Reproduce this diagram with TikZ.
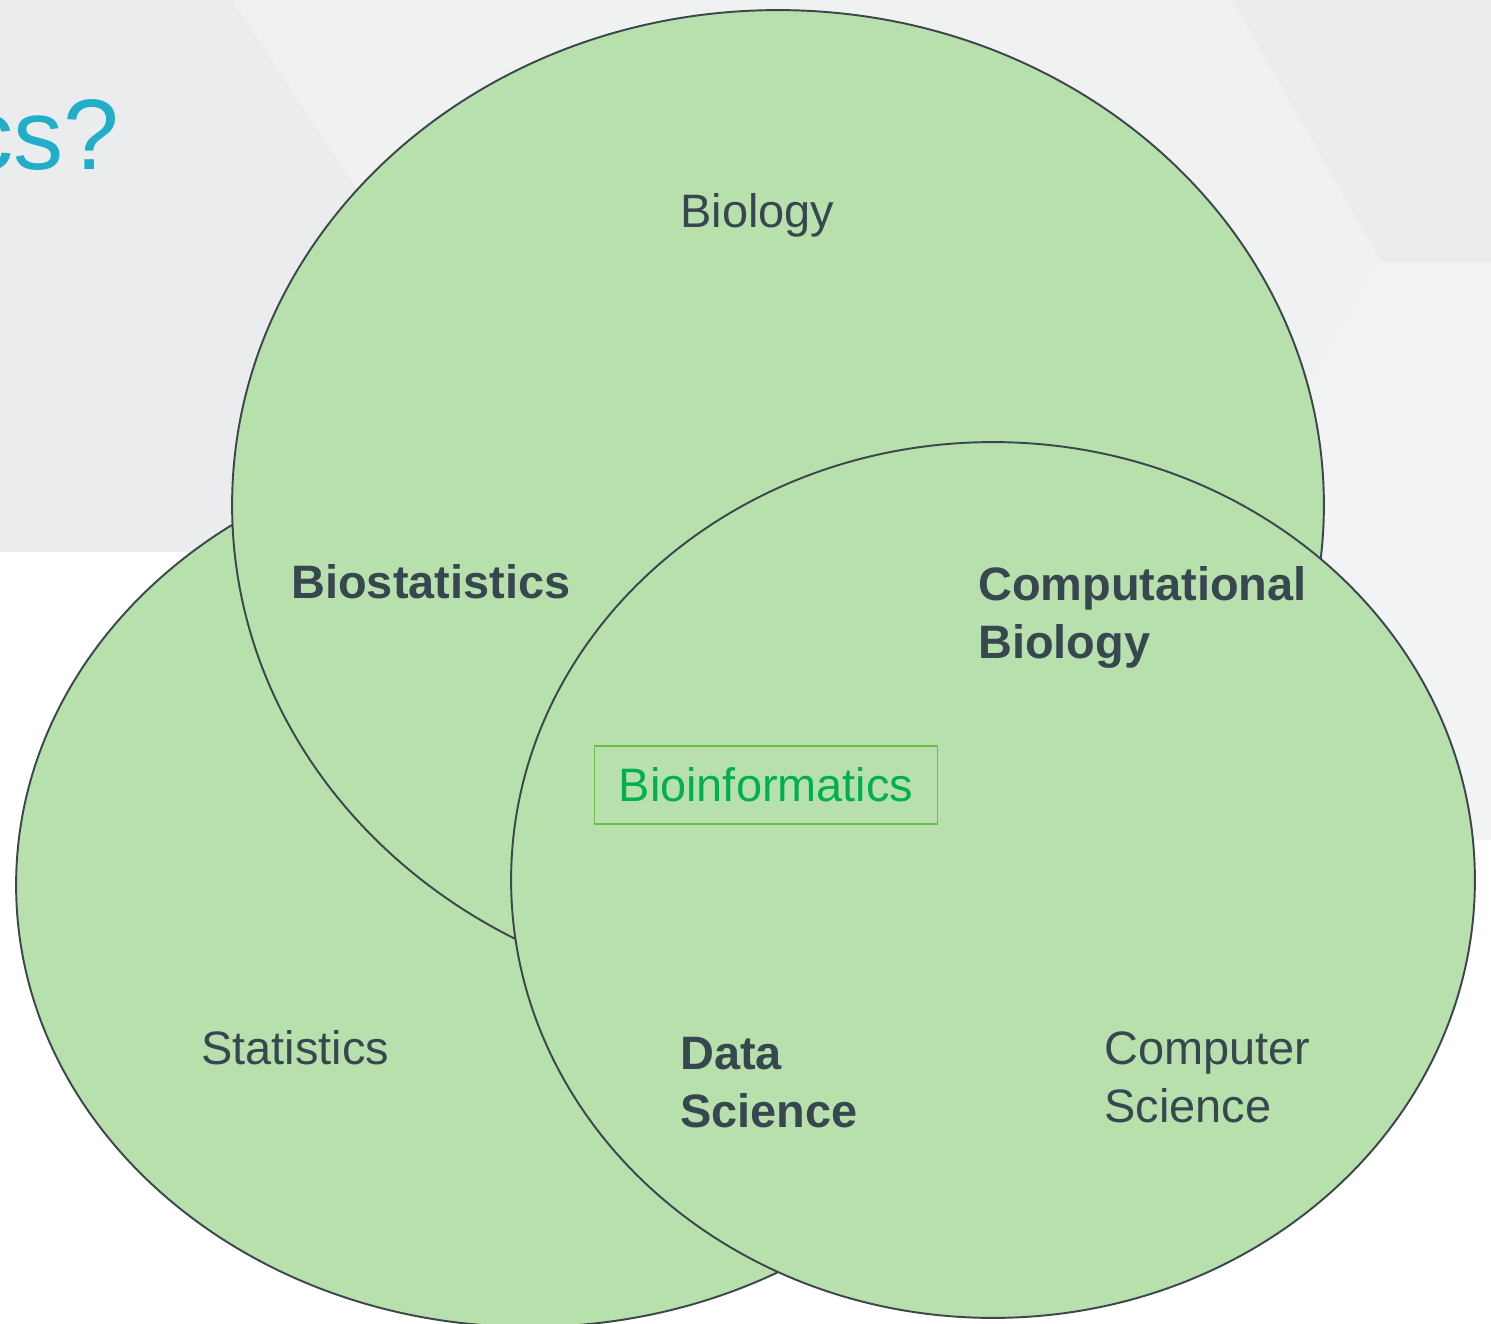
\documentclass[tikz,border=0pt]{standalone}
\usepackage{fontspec}
\setmainfont{Liberation Sans}
\usetikzlibrary{shapes.geometric, positioning}

\definecolor{vennfill}{HTML}{B8E0AD}
\definecolor{venndraw}{HTML}{3B474C}
\definecolor{labeltext}{HTML}{37474F}
\definecolor{bioinfo}{HTML}{00B050}
\definecolor{bioinfobox}{HTML}{6CBF4C}
\definecolor{titlecyan}{HTML}{22AEC8}
\definecolor{bgdark}{HTML}{EBECEE}
\definecolor{bgmid}{HTML}{F0F1F1}
\definecolor{bglight}{HTML}{F2F3F5}

\begin{document}
\begin{tikzpicture}[
  x=0.02cm, y=-0.02cm,
  every node/.style={font=\fontsize{26.7}{33}\selectfont, text=labeltext, inner sep=0pt},
  set/.style={ellipse, draw=venndraw, fill=vennfill, line width=1.1pt,
    minimum width=19.28cm, minimum height=17.52cm},
  lbl/.style={anchor=base west, align=left},
  bold lbl/.style={lbl, font=\fontsize{26.7}{33}\selectfont\bfseries}
]
  \useasboundingbox (0,0) rectangle (1491,1324);
  \fill[white] (0,0) rectangle (1491,1324);

  % slide background panels
  \fill[bgmid] (232,0) -- (1232,0) -- (1382,263) -- (1247,500) -- (600,552) -- cycle;
  \fill[bgdark] (0,0) -- (232,0) -- (599,552) -- (0,552) -- cycle;
  \fill[bgdark] (1232,0) -- (1491,0) -- (1491,263) -- (1382,263) -- cycle;
  \fill[bglight] (1382,263) -- (1491,263) -- (1491,840) -- (1200,840) -- (1247,500) -- cycle;

  \node[anchor=base east, text=titlecyan, font=\fontsize{57}{60}\selectfont] (title) at (120,170) {cs?};

  % the three sets
  \node[set, minimum width=20.56cm, minimum height=17.68cm] (stat) at (530,885) {};
  \node[set, minimum width=21.84cm, minimum height=19.8cm] (bio) at (778,505) {};
  \node[set] (cs) at (993,880) {};

  % base of a two-line label sits on its last line
  \node[lbl] (biology) at (680,228) {Biology};
  \node[lbl] (statistics) at (201,1064) {Statistics};
  \node[lbl] (compsci) at (1104,1122) {Computer\\Science};
  \node[bold lbl] (biostat) at (291,598) {Biostatistics};
  \node[bold lbl] (compbio) at (978,658) {Computational\\Biology};
  \node[bold lbl] (datasci) at (680,1127) {Data\\Science};

  \node[draw=bioinfobox, line width=1pt, text=bioinfo,
    minimum width=6.86cm, minimum height=1.56cm] (bioinfo) at (766,785) {Bioinformatics};
\end{tikzpicture}
\end{document}
